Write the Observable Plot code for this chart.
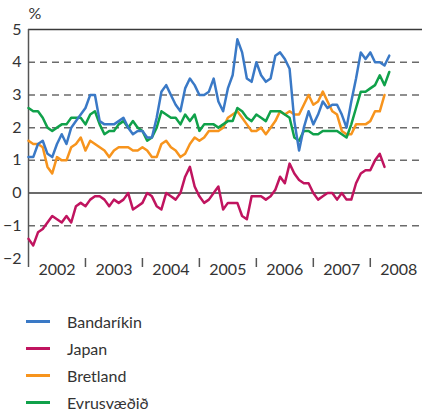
<!DOCTYPE html>
<html><head><meta charset="utf-8">
<script src="https://cdn.jsdelivr.net/npm/d3@7"></script>
<script src="https://cdn.jsdelivr.net/npm/@observablehq/plot@0.6"></script>
<style>
body{margin:0;background:#fff;font-family:Lato, sans-serif;}
#legend{padding-top:18px;}
.row{position:relative;height:27px;}
.sw{position:absolute;left:26px;top:12px;width:24px;height:3px;}
.lab{position:absolute;left:67px;top:0;line-height:27px;font-size:16px;color:#333;}
</style></head><body><div id="chart"></div><div id="legend"></div>
<script>
const years = ["2002","2003","2004","2005","2006","2007","2008"];
const seriesNames = ["Bandaríkin","Japan","Bretland","Evrusvæðið"];
const colors = ["#3a79c6","#c0145f","#f7941d","#10a14a"];
const yTicks = [-2,-1,0,1,2,3,4,5];
const gridValues = [-1,1,2,3,4];
const solidValues = [0,5];
// monthly values from Jan 2002
const bandarikin = [1.1,1.1,1.5,1.6,1.2,1.1,1.5,1.8,1.5,2.0,2.2,2.4,
  2.6,3.0,3.0,2.2,2.1,2.1,2.1,2.2,2.3,2.0,1.8,1.9,
  1.9,1.7,1.7,2.3,3.1,3.3,3.0,2.7,2.5,3.2,3.5,3.3,
  3.0,3.0,3.1,3.5,2.8,2.5,3.2,3.6,4.7,4.3,3.5,3.4,
  4.0,3.6,3.4,3.5,4.2,4.3,4.1,3.8,2.2,1.3,2.0,2.5,
  2.1,2.4,2.8,2.6,2.7,2.7,2.4,2.0,2.8,3.5,4.3,4.1,
  4.3,4.0,4.0,3.9,4.2];
const japan = [-1.4,-1.6,-1.2,-1.1,-0.9,-0.7,-0.8,-0.9,-0.7,-0.9,-0.4,-0.3,
  -0.4,-0.2,-0.1,-0.1,-0.2,-0.4,-0.2,-0.3,-0.2,0.0,-0.5,-0.4,
  -0.3,0.0,-0.1,-0.4,-0.5,0.0,-0.1,-0.2,0.0,0.5,0.8,0.2,
  -0.1,-0.3,-0.2,0.0,0.2,-0.5,-0.3,-0.3,-0.3,-0.7,-0.8,-0.1,
  -0.1,-0.1,-0.2,-0.1,0.1,0.5,0.3,0.9,0.6,0.4,0.3,0.3,
  0.0,-0.2,-0.1,0.0,0.0,-0.2,0.0,-0.2,-0.2,0.3,0.6,0.7,
  0.7,1.0,1.2,0.8];
const bretland = [1.6,1.5,1.5,1.4,0.8,0.6,1.1,1.0,1.0,1.4,1.5,1.7,
  1.3,1.6,1.5,1.4,1.3,1.1,1.3,1.4,1.4,1.4,1.3,1.3,
  1.4,1.3,1.1,1.1,1.5,1.6,1.4,1.3,1.1,1.2,1.5,1.7,
  1.6,1.7,1.9,1.9,1.9,2.0,2.3,2.4,2.5,2.3,2.1,1.9,
  1.9,2.0,1.8,2.0,2.2,2.5,2.4,2.5,2.4,2.4,2.7,3.0,
  2.7,2.8,3.1,2.8,2.5,2.4,1.9,1.8,1.8,2.1,2.1,2.1,
  2.2,2.5,2.5,3.0];
const evrusvaedid = [2.6,2.5,2.5,2.3,2.0,1.9,2.0,2.1,2.1,2.3,2.3,2.3,
  2.1,2.4,2.5,2.1,1.8,1.9,1.9,2.1,2.2,2.0,2.2,2.0,
  1.9,1.6,1.7,2.0,2.5,2.4,2.3,2.3,2.1,2.4,2.2,2.4,
  1.9,2.1,2.1,2.1,2.0,2.1,2.2,2.2,2.6,2.5,2.3,2.2,
  2.4,2.3,2.2,2.5,2.5,2.5,2.4,2.3,1.7,1.6,1.9,1.9,
  1.8,1.8,1.9,1.9,1.9,1.9,1.8,1.7,2.1,2.6,3.1,3.1,
  3.2,3.3,3.6,3.3,3.7];

const allSeries = [bandarikin, japan, bretland, evrusvaedid];
const rows = [];
allSeries.forEach((arr, s) => arr.forEach((v, i) => rows.push({i, v, s: seriesNames[s]})));
const yearStarts = years.map((y, k) => k * 12);
const yearCenters = years.map((y, k) => k * 12 + 6);
const drawOrder = ["Bretland","Evrusvæðið","Bandaríkin","Japan"];

const plot = Plot.plot({
  width: 422, height: 290,
  marginLeft: 28, marginRight: 0, marginTop: 29, marginBottom: 32,
  style: {fontFamily: "Lato, sans-serif", fontSize: "16px", color: "#333", background: "#fff"},
  x: {domain: [0, 83]},
  y: {domain: [-2, 5]},
  color: {domain: seriesNames, range: colors},
  marks: [
    Plot.ruleY(gridValues, {stroke: "#6b6b6b", strokeWidth: 1.5, strokeDasharray: "7,5"}),
    Plot.ruleY(solidValues, {stroke: "#3a3a3a", strokeWidth: 1.5}),
    Plot.ruleX([0], {stroke: "#555", strokeWidth: 1.5}),
    Plot.axisY(yTicks, {tickSize: 0, tickPadding: 7, label: null, fontSize: 16}),
    Plot.axisX(yearStarts, {tickSize: 9, tickFormat: () => "", label: null, strokeWidth: 1.5, stroke: "#555"}),
    Plot.axisX(yearCenters, {tickSize: 0, tickPadding: 5, label: null, fontSize: 16,
      tickFormat: d => years[Math.round((d - 6) / 12)]}),
    ...drawOrder.map(name => Plot.line(rows.filter(r => r.s === name),
      {x: "i", y: "v", stroke: "s", strokeWidth: 2.5, strokeLinejoin: "round"})),
    Plot.text(["%"], {frameAnchor: "top-left", text: d => d, dy: -11, lineAnchor: "bottom",
      textAnchor: "start", fontSize: 16, fill: "#333"})
  ]
});
document.getElementById("chart").appendChild(plot);

const legend = document.getElementById("legend");
seriesNames.forEach((name, k) => {
  const row = document.createElement("div");
  row.className = "row";
  const sw = document.createElement("div");
  sw.className = "sw";
  sw.style.background = colors[k];
  const lab = document.createElement("div");
  lab.className = "lab";
  lab.textContent = name;
  row.appendChild(sw); row.appendChild(lab);
  legend.appendChild(row);
});
</script></body></html>
